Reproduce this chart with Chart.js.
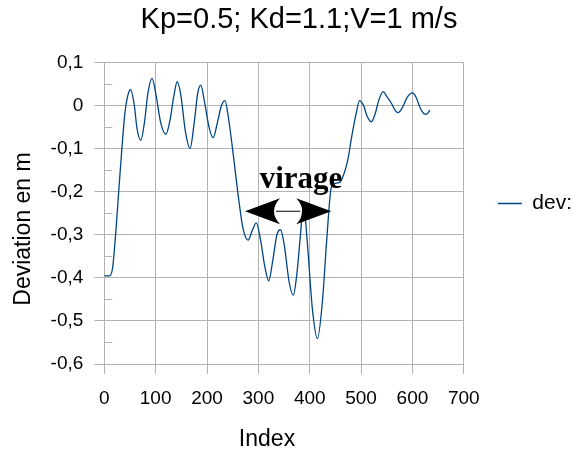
<!DOCTYPE html>
<html>
<head>
<meta charset="utf-8">
<script src="https://cdn.jsdelivr.net/npm/chart.js@4/dist/chart.umd.min.js"></script>
<style>
  html, body { margin: 0; padding: 0; background: #fff; }
  #wrap { width: 582px; height: 453px; }
</style>
</head>
<body>
<div id="wrap"><canvas id="myChart" width="582" height="453"></canvas></div>
<script>
// values
const indexValues = [0, 10, 16, 22, 28, 34, 40, 45, 51, 58, 64, 71, 78, 85, 93, 100, 110, 120, 128, 135, 142, 149, 158, 167, 175, 182, 188, 195, 204, 212, 220, 228, 235, 242, 250, 262, 270, 280, 288, 296, 304, 312, 320, 328, 336, 343, 350, 360, 368, 375, 381, 388, 395, 405, 415, 425, 433, 442, 450, 458, 466, 474, 482, 490, 497, 505, 512, 520, 527, 535, 543, 550, 559, 566, 572, 580, 590, 600, 607, 615, 622, 627, 634];
const devValues = [-0.395, -0.395, -0.378, -0.3, -0.2, -0.103, -0.018, 0.02, 0.038, 0.005, -0.055, -0.08, -0.04, 0.03, 0.064, 0.03, -0.04, -0.066, -0.033, 0.02, 0.056, 0.025, -0.06, -0.099, -0.04, 0.03, 0.048, 0.01, -0.05, -0.074, -0.04, 0.0, 0.012, -0.03, -0.103, -0.22, -0.285, -0.312, -0.29, -0.272, -0.31, -0.37, -0.407, -0.36, -0.3, -0.288, -0.32, -0.41, -0.44, -0.39, -0.313, -0.23, -0.313, -0.47, -0.541, -0.45, -0.313, -0.19, -0.18, -0.178, -0.16, -0.126, -0.07, -0.02, 0.012, 0.0, -0.025, -0.037, -0.02, 0.015, 0.033, 0.022, 0.006, -0.01, -0.016, -0.005, 0.02, 0.03, 0.02, -0.005, -0.018, -0.02, -0.01];
const yMinorTicks = [-0.55, -0.45, -0.35, -0.25, -0.15, -0.05, 0.05];

const titleText = "Kp=0.5; Kd=1.1;V=1 m/s";
const xTitle = "Index";
const yTitle = "Deviation en m";
const seriesLabel = "dev:";

// annotation in data units
const virage = { text: "virage", x: 383, y: -0.19, fromX: 274, toX: 442, arrowY: -0.245 };

const gridColor = "#b3b3b3";
Chart.defaults.font.family = "'Liberation Sans', Arial, sans-serif";
Chart.defaults.color = "#000";

const fmt = (v) => {
  const r = Math.round(v * 10) / 10;
  if (r === 0) return "0";
  return r.toFixed(1).replace(".", ",");
};

const extras = {
  id: "extras",
  afterLayout(chart) {
    // lift the legend a little, it sits above the middle in the original
    const l = chart.legend;
    l.top -= 23;
    l.bottom -= 23;
  },
  afterDraw(chart) {
    const { ctx, chartArea, scales } = chart;
    const x = scales.x, y = scales.y;
    ctx.save();
    // small inside ticks on the y axis
    ctx.strokeStyle = gridColor;
    ctx.lineWidth = 1;
    yMinorTicks.forEach((v) => {
      const py = Math.round(y.getPixelForValue(v)) + 0.5;
      ctx.beginPath();
      ctx.moveTo(chartArea.left, py);
      ctx.lineTo(chartArea.left + 8, py);
      ctx.stroke();
    });

    // axis titles
    ctx.fillStyle = "#000";
    ctx.font = "23px 'Liberation Sans', Arial, sans-serif";
    ctx.textAlign = "center";
    ctx.textBaseline = "middle";
    ctx.fillText(xTitle, 267, 440);
    ctx.save();
    ctx.translate(24, 229);
    ctx.rotate(-Math.PI / 2);
    ctx.fillText(yTitle, 0, 0);
    ctx.restore();

    // "virage" label with double arrow
    ctx.font = "bold 31px 'Liberation Serif', 'Times New Roman', serif";
    ctx.textBaseline = "alphabetic";
    ctx.fillText(virage.text, x.getPixelForValue(virage.x), y.getPixelForValue(virage.y));

    const x1 = x.getPixelForValue(virage.fromX);
    const x2 = x.getPixelForValue(virage.toX);
    const ay = y.getPixelForValue(virage.arrowY);
    const len = 35, half = 13;
    ctx.strokeStyle = "#000";
    ctx.lineWidth = 1;
    ctx.beginPath();
    ctx.moveTo(x1 + len - 4, ay);
    ctx.lineTo(x2 - len + 4, ay);
    ctx.stroke();
    const head = (tip, dir) => {
      const back = tip + dir * len;
      ctx.beginPath();
      ctx.moveTo(tip, ay);
      ctx.lineTo(back, ay - half);
      ctx.quadraticCurveTo(back - dir * 12, ay, back, ay + half);
      ctx.closePath();
      ctx.fill();
    };
    head(x1, 1);
    head(x2, -1);
    ctx.restore();
  }
};

const ctx = document.getElementById("myChart").getContext("2d");
const chart = new Chart(ctx, {
  type: "line",
  data: {
    datasets: [
      {
        label: seriesLabel,
        data: indexValues.map((v, i) => ({ x: v, y: devValues[i] })),
        borderColor: "#004586",
        backgroundColor: "#004586",
        borderWidth: 1.3,
        pointRadius: 0,
        cubicInterpolationMode: "monotone",
        fill: false,
      },
    ],
  },
  options: {
    responsive: false,
    animation: false,
    layout: { padding: { left: 16, right: 0, top: 0, bottom: 0 } },
    plugins: {
      title: {
        display: true,
        text: titleText,
        color: "#000",
        font: { size: 29, weight: "normal" },
        padding: { top: 3, bottom: 25 },
      },
      legend: {
        position: "right",
        labels: {
          usePointStyle: true,
          pointStyle: "line",
          pointStyleWidth: 24,
          padding: 34,
          color: "#000",
          font: { size: 21 },
        },
      },
      tooltip: { enabled: false },
    },
    scales: {
      x: {
        type: "linear",
        min: 0,
        max: 700,
        ticks: { stepSize: 100, padding: 13, font: { size: 19 }, color: "#000", maxRotation: 0 },
        grid: { color: gridColor, tickLength: 10 },
        border: { color: gridColor },
        afterFit: (s) => { s.height = 89; },
      },
      y: {
        min: -0.6,
        max: 0.1,
        ticks: { stepSize: 0.1, padding: 11, font: { size: 19 }, color: "#000", callback: fmt },
        grid: { color: gridColor, tickLength: 10 },
        border: { color: gridColor },
        afterFit: (s) => { s.width = 88.3; },
      },
    },
  },
  plugins: [extras],
});
</script>
</body>
</html>
